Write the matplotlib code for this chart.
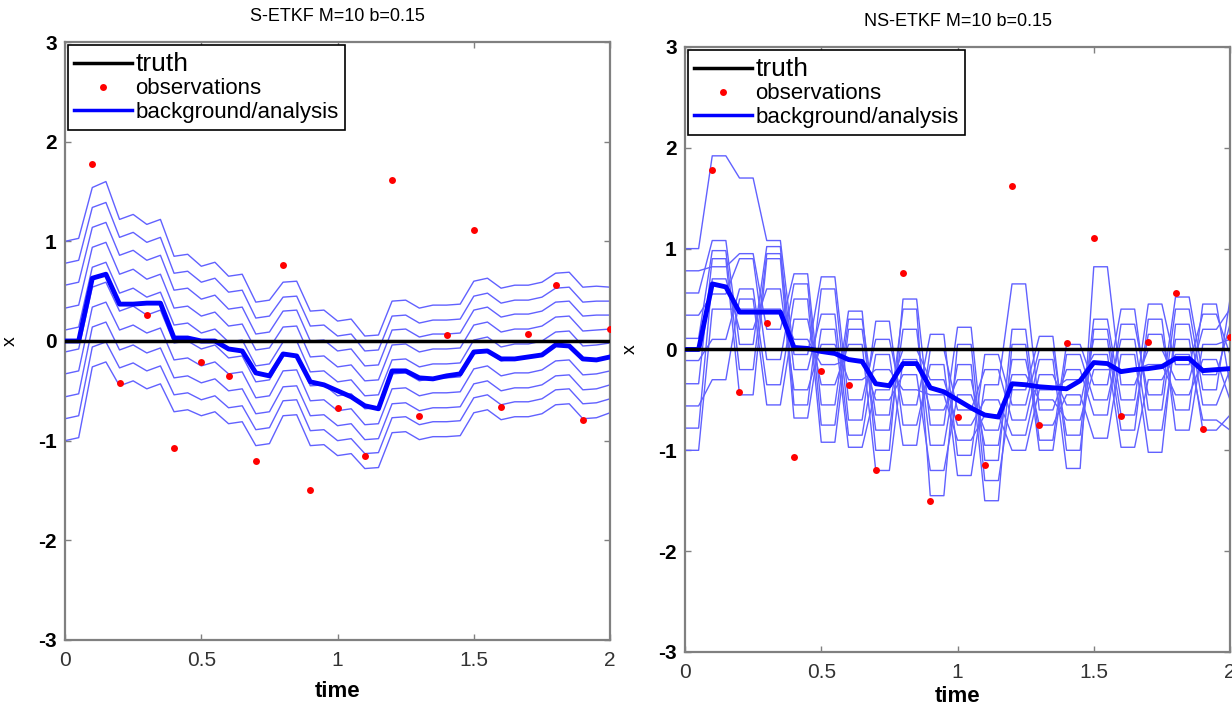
import matplotlib
matplotlib.use("Agg")
import matplotlib.pyplot as plt
from matplotlib.lines import Line2D
import numpy as np

plt.rcParams['font.family'] = ['Liberation Sans', 'DejaVu Sans']
plt.rcParams['axes.unicode_minus'] = False

# model output every 0.05, observation / analysis every 0.1
times = [0.0, 0.05, 0.1, 0.15, 0.2, 0.25, 0.3, 0.35, 0.4, 0.45, 0.5, 0.55, 0.6, 0.65,
         0.7, 0.75, 0.8, 0.85, 0.9, 0.95, 1.0, 1.05, 1.1, 1.15, 1.2, 1.25, 1.3, 1.35,
         1.4, 1.45, 1.5, 1.55, 1.6, 1.65, 1.7, 1.75, 1.8, 1.85, 1.9, 1.95, 2.0]

truth_times = [0.0, 2.0]
truth_values = [0.0, 0.0]

obs_times = [0.1, 0.2, 0.3, 0.4, 0.5, 0.6, 0.7, 0.8, 0.9, 1.0,
             1.1, 1.2, 1.3, 1.4, 1.5, 1.6, 1.7, 1.8, 1.9, 2.0]
obs_values = [1.78, -0.42, 0.26, -1.07, -0.21, -0.35, -1.2, 0.76, -1.5, -0.67,
              -1.15, 1.62, -0.75, 0.06, 1.11, -0.66, 0.07, 0.56, -0.79, 0.12]

# S-ETKF: ensemble mean and members (values at every 0.05)
left_mean = [0, 0, 0.63, 0.67, 0.37, 0.37, 0.38, 0.38, 0.03, 0.03, 0.0, 0.0, -0.08, -0.1,
             -0.32, -0.35, -0.13, -0.15, -0.41, -0.44, -0.5, -0.56, -0.65, -0.68, -0.3, -0.3,
             -0.37, -0.38, -0.35, -0.33, -0.11, -0.1, -0.18, -0.18, -0.16, -0.14, -0.04, -0.05,
             -0.18, -0.19, -0.16]

left_ens = [
    [1.00, 1.03, 1.54, 1.60, 1.22, 1.27, 1.17, 1.22, 0.85, 0.87, 0.75, 0.79, 0.65, 0.67,
     0.39, 0.41, 0.59, 0.60, 0.30, 0.31, 0.20, 0.22, 0.05, 0.06, 0.40, 0.41, 0.33, 0.36,
     0.36, 0.37, 0.60, 0.63, 0.53, 0.56, 0.56, 0.59, 0.68, 0.69, 0.54, 0.55, 0.54],
    [0.78, 0.81, 1.34, 1.39, 1.04, 1.09, 0.99, 1.04, 0.68, 0.70, 0.59, 0.63, 0.49, 0.51,
     0.23, 0.25, 0.44, 0.45, 0.15, 0.16, 0.05, 0.07, -0.10, -0.09, 0.25, 0.26, 0.18, 0.21,
     0.21, 0.22, 0.45, 0.48, 0.38, 0.41, 0.41, 0.44, 0.53, 0.54, 0.39, 0.40, 0.40],
    [0.56, 0.59, 1.14, 1.19, 0.86, 0.91, 0.81, 0.86, 0.51, 0.53, 0.42, 0.46, 0.32, 0.34,
     0.07, 0.09, 0.30, 0.31, 0.00, 0.01, -0.10, -0.08, -0.25, -0.24, 0.11, 0.12, 0.04, 0.07,
     0.07, 0.08, 0.31, 0.34, 0.24, 0.27, 0.27, 0.30, 0.39, 0.40, 0.25, 0.26, 0.26],
    [0.33, 0.36, 0.94, 0.99, 0.67, 0.72, 0.62, 0.67, 0.33, 0.35, 0.25, 0.29, 0.15, 0.17,
     -0.09, -0.07, 0.14, 0.15, -0.16, -0.15, -0.26, -0.24, -0.40, -0.39, -0.04, -0.03, -0.11, -0.08,
     -0.08, -0.07, 0.16, 0.19, 0.09, 0.12, 0.12, 0.15, 0.24, 0.25, 0.10, 0.11, 0.12],
    [0.11, 0.14, 0.74, 0.79, 0.48, 0.53, 0.44, 0.49, 0.16, 0.18, 0.08, 0.12, -0.01, 0.01,
     -0.25, -0.23, -0.01, 0.00, -0.31, -0.30, -0.41, -0.39, -0.55, -0.54, -0.19, -0.18, -0.26, -0.23,
     -0.23, -0.22, 0.01, 0.04, -0.06, -0.03, -0.03, 0.00, 0.09, 0.10, -0.05, -0.04, -0.02],
    [-0.11, -0.08, 0.54, 0.59, 0.30, 0.35, 0.26, 0.31, -0.02, 0.00, -0.08, -0.04, -0.17, -0.15,
     -0.41, -0.39, -0.15, -0.14, -0.45, -0.44, -0.55, -0.53, -0.68, -0.67, -0.33, -0.32, -0.40, -0.37,
     -0.37, -0.36, -0.13, -0.10, -0.20, -0.17, -0.17, -0.14, -0.05, -0.04, -0.19, -0.18, -0.16],
    [-0.33, -0.30, 0.34, 0.39, 0.11, 0.16, 0.08, 0.13, -0.19, -0.17, -0.25, -0.21, -0.33, -0.31,
     -0.57, -0.55, -0.30, -0.29, -0.60, -0.59, -0.70, -0.68, -0.84, -0.83, -0.48, -0.47, -0.55, -0.52,
     -0.52, -0.51, -0.28, -0.25, -0.35, -0.32, -0.32, -0.29, -0.20, -0.19, -0.34, -0.33, -0.30],
    [-0.56, -0.53, 0.14, 0.19, -0.09, -0.04, -0.12, -0.07, -0.37, -0.35, -0.42, -0.38, -0.50, -0.48,
     -0.73, -0.71, -0.46, -0.45, -0.75, -0.74, -0.85, -0.83, -0.99, -0.98, -0.63, -0.62, -0.70, -0.67,
     -0.67, -0.66, -0.43, -0.40, -0.50, -0.47, -0.47, -0.44, -0.35, -0.34, -0.49, -0.48, -0.44],
    [-0.78, -0.75, -0.06, -0.01, -0.27, -0.22, -0.30, -0.25, -0.54, -0.52, -0.59, -0.55, -0.67, -0.65,
     -0.89, -0.87, -0.60, -0.59, -0.90, -0.89, -1.00, -0.98, -1.13, -1.12, -0.77, -0.76, -0.84, -0.81,
     -0.81, -0.80, -0.57, -0.54, -0.64, -0.61, -0.61, -0.58, -0.49, -0.48, -0.63, -0.62, -0.58],
    [-1.00, -0.97, -0.26, -0.21, -0.45, -0.40, -0.48, -0.43, -0.71, -0.69, -0.75, -0.71, -0.83, -0.81,
     -1.05, -1.03, -0.75, -0.74, -1.05, -1.04, -1.15, -1.13, -1.28, -1.27, -0.92, -0.91, -0.99, -0.96,
     -0.96, -0.95, -0.72, -0.69, -0.79, -0.76, -0.76, -0.73, -0.64, -0.63, -0.78, -0.77, -0.72],
]

# NS-ETKF: ensemble mean (every 0.05) and members at the analysis times 0, 0.1, ..., 2.0
right_mean = [0, 0, 0.65, 0.62, 0.37, 0.37, 0.37, 0.37, 0.02, 0.01, -0.02, -0.04, -0.1, -0.12,
              -0.34, -0.36, -0.14, -0.14, -0.38, -0.42, -0.5, -0.58, -0.65, -0.67, -0.34, -0.35,
              -0.37, -0.38, -0.39, -0.31, -0.13, -0.14, -0.22, -0.2, -0.19, -0.17, -0.09, -0.09,
              -0.21, -0.2, -0.19]

right_ens = [
    [1.0, 1.92, 1.7, 1.08, -0.05, 0.72, -0.5, 0.1, -0.55, 0.15, -1.05, -0.05, -0.55, 0.0, -0.85, 0.3, -0.5, 0.45, -0.15, 0.35, -0.05],
    [0.78, 0.82, 0.95, 0.2, 0.75, -0.55, 0.38, -1.0, 0.5, -0.75, 0.22, -1.1, 0.2, -0.9, 0.05, -0.35, 0.4, -0.6, 0.4, -0.4, 0.5],
    [0.56, 1.08, 0.05, 1.02, -0.55, 0.6, -0.7, 0.28, -0.75, -0.15, -1.25, -0.35, 0.65, -0.6, -0.2, -0.65, 0.25, -0.45, 0.52, -0.25, 0.25],
    [0.34, 0.55, 0.9, -0.1, 0.65, -0.75, 0.3, -0.65, 0.4, -1.45, 0.05, -1.3, -0.4, 0.13, -1.0, 0.2, -0.65, 0.15, -0.6, 0.45, -0.35],
    [0.11, 0.98, -0.2, 0.95, -0.2, 0.35, -0.85, -0.05, -0.95, 0.0, -0.6, -0.2, -0.7, -0.1, -1.18, 0.82, -0.35, 0.0, -0.3, 0.2, 0.4],
    [-0.11, 0.1, 0.6, -0.35, 0.5, -0.92, 0.2, -0.8, 0.2, -0.95, -0.15, -1.5, 0.05, -1.0, -0.05, -0.5, 0.1, -0.8, 0.1, -0.8, -0.65],
    [-0.34, 0.9, -0.45, 0.9, -0.68, 0.2, -0.97, -0.4, 0.0, -0.3, -0.75, -0.5, -0.85, -0.25, -0.55, 0.1, -0.8, 0.3, -0.8, 0.05, 0.1],
    [-0.56, -0.3, 0.5, -0.55, 0.3, -0.35, 0.05, -1.2, -0.1, -0.6, -0.3, -0.95, -0.1, -0.75, -0.45, -0.88, -0.05, -1.02, 0.25, -0.55, -0.2],
    [-0.78, 0.7, 0.2, 0.6, -0.4, 0.05, -0.3, -0.2, -0.4, -0.45, -0.9, -0.65, -1.0, -0.4, -0.3, -0.05, -0.97, -0.3, -0.05, -0.7, -0.8],
    [-1.0, 0.4, 0.4, 0.4, 0.1, -0.15, -0.1, -0.5, -0.25, -1.2, -0.45, -0.8, -0.25, -0.5, -0.7, -0.2, -0.2, -0.15, -0.45, -0.1, -0.5],
]

titles = ["S-ETKF M=10 b=0.15", "NS-ETKF M=10 b=0.15"]
legend_labels = ["truth", "observations", "background/analysis"]

member_color = (0.38, 0.38, 1.0)
frame_color = "0.5"


def draw_panel(ax, mean, members, title, xlabel_pad):
    for m in members:
        ax.plot(times, m, color=member_color, lw=1.0, zorder=2)
    ax.plot(times, mean, color="blue", lw=3.5, zorder=3)
    ax.plot(truth_times, truth_values, color="black", lw=2.5, zorder=4)
    ax.plot(obs_times, obs_values, "o", color="red", ms=5, mec="none", zorder=5)

    ax.set_xlim(0, 2)
    ax.set_ylim(-3, 3)
    ax.set_xticks([0, 0.5, 1, 1.5, 2])
    ax.set_xticklabels(["0", "0.5", "1", "1.5", "2"])
    ax.set_yticks([-3, -2, -1, 0, 1, 2, 3])
    ax.tick_params(direction="in", length=4, width=1, top=True, right=True,
                   colors=frame_color, labelsize=15)
    ax.tick_params(axis="x", pad=8)
    ax.tick_params(axis="y", pad=6)
    for lab in ax.get_xticklabels():
        lab.set_color("0.2")
    for lab in ax.get_yticklabels():
        lab.set_color("black")
        lab.set_fontweight("bold")
    for sp in ax.spines.values():
        sp.set_color(frame_color)
        sp.set_linewidth(1.6)

    ax.set_title(title, fontsize=13, pad=15)
    ax.set_xlabel("time", fontsize=16, fontweight="bold", labelpad=xlabel_pad)
    ax.set_ylabel("x", fontsize=14, labelpad=14)

    handles = [Line2D([], [], color="black", lw=2.5),
               Line2D([], [], color="red", marker="o", ls="none", ms=5, mec="none"),
               Line2D([], [], color="blue", lw=2.5)]
    leg = ax.legend(handles, legend_labels, loc="upper left", bbox_to_anchor=(0.005, 0.995),
                    borderaxespad=0, fontsize=16, handlelength=2.6, handletextpad=0.15,
                    labelspacing=0.12, borderpad=0.3, fancybox=False, framealpha=1,
                    edgecolor="black")
    leg.get_frame().set_linewidth(1.2)
    leg.get_texts()[0].set_fontsize(19)


fig = plt.figure(figsize=(12.32, 7.11), dpi=100)
ax1 = fig.add_axes([0.0528, 0.0999, 0.4424, 0.841])
ax2 = fig.add_axes([0.556, 0.083, 0.4424, 0.851])

draw_panel(ax1, left_mean, left_ens, titles[0], 8)

# NS-ETKF members hold their analysis value until the next forecast step
right_paths = [np.repeat(m, 2)[:-1] for m in right_ens]
draw_panel(ax2, right_mean, right_paths, titles[1], 3)

fig.savefig("out.png", dpi=100)
